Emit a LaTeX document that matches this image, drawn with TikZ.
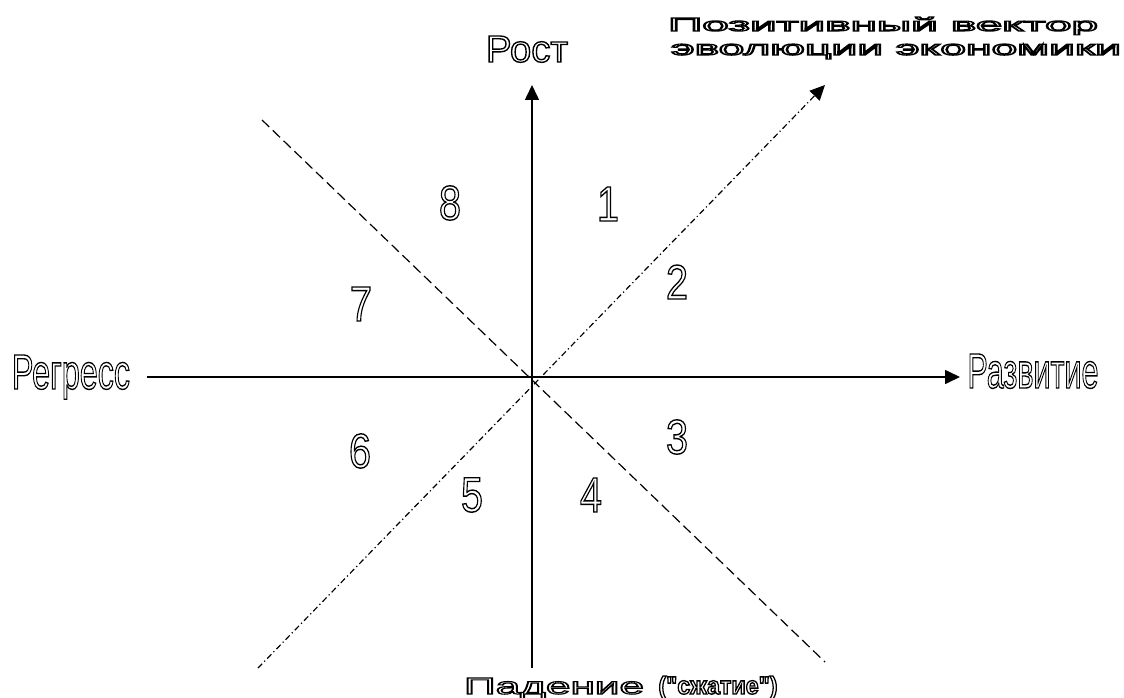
\documentclass[tikz,border=0pt]{standalone}
\usepackage{fontspec}
\usepackage{graphicx}
\usetikzlibrary{arrows.meta}
\newfontfamily\ls{Liberation Sans}
\newcommand\outl[2]{\special{pdf:literal direct 1 Tr #1 w}#2\special{pdf:literal direct 0 Tr}}
\newcommand\otxt[5][1.3]{\resizebox{#2}{#3}{\ls\fontsize{#4}{#4}\selectfont\outl{#1}{#5}}}
\newcommand\otxtb[5][1.1]{\resizebox{#2}{#3}{\ls\bfseries\fontsize{#4}{#4}\selectfont\outl{#1}{#5}}}
\begin{document}
\begin{tikzpicture}[x=1pt,y=-1pt,
  axis/.style={line width=1.6pt,-{Triangle[length=15pt,width=14pt]}},
  dline/.style={line width=1.2pt,dash pattern=on 10pt off 5pt},
  ddline/.style={line width=1.2pt,dash pattern=on 6pt off 3pt on 1.2pt off 3pt,-{Triangle[length=15pt,width=14pt]}},
  lbl/.style={inner sep=0pt,anchor=base},
  num/.style={inner sep=0pt,anchor=center}]
\useasboundingbox (0,0) rectangle (1124,698);
\coordinate (O) at (532,377);
\coordinate (top) at (532,85);
\coordinate (bot) at (532,668);
\coordinate (left) at (147,377);
\coordinate (right) at (960,377);
\coordinate (dl1) at (262,120);
\coordinate (dl2) at (825,662);
\coordinate (dd1) at (258,668);
\coordinate (dd2) at (825,85);
\draw[axis] (bot) -- (top);
\draw[axis] (left) -- (right);
\draw[dline] (dl1) -- (dl2);
\draw[ddline] (dd1) -- (dd2);
% labels
\node[lbl] (rost) at (527,62) {\otxt{82pt}{26pt}{36pt}{Рост}};
\node[lbl] (regr) at (71,389) {\otxt{118pt}{34pt}{47pt}{Регресс}};
\node[lbl] (razv) at (1033,388) {\otxt{131pt}{34pt}{47pt}{Развитие}};
\node[lbl] (pad) at (554,694) {\otxt[1.0]{180pt}{16pt}{22pt}{Падение}};
\node[lbl] (szh) at (718,694) {\otxtb[1.3]{119pt}{18pt}{24pt}{("сжатие")}};
\node[lbl] (pv1) at (883,31) {\otxt[1.1]{430pt}{14pt}{20pt}{Позитивный вектор}};
\node[lbl] (pv2) at (896,55) {\otxt[1.1]{450pt}{11pt}{20pt}{эволюции экономики}};
% sector numbers
\node[num] (n1) at (608,204) {\otxt{22pt}{34pt}{46pt}{1}};
\node[num] (n2) at (677,282) {\otxt{22pt}{34pt}{46pt}{2}};
\node[num] (n3) at (677,437) {\otxt{22pt}{34pt}{46pt}{3}};
\node[num] (n4) at (591,495) {\otxt{22pt}{34pt}{46pt}{4}};
\node[num] (n5) at (472,495) {\otxt{22pt}{34pt}{46pt}{5}};
\node[num] (n6) at (360,451) {\otxt{22pt}{34pt}{46pt}{6}};
\node[num] (n7) at (361,304) {\otxt{22pt}{34pt}{46pt}{7}};
\node[num] (n8) at (450,203) {\otxt{22pt}{34pt}{46pt}{8}};
\end{tikzpicture}
\end{document}
